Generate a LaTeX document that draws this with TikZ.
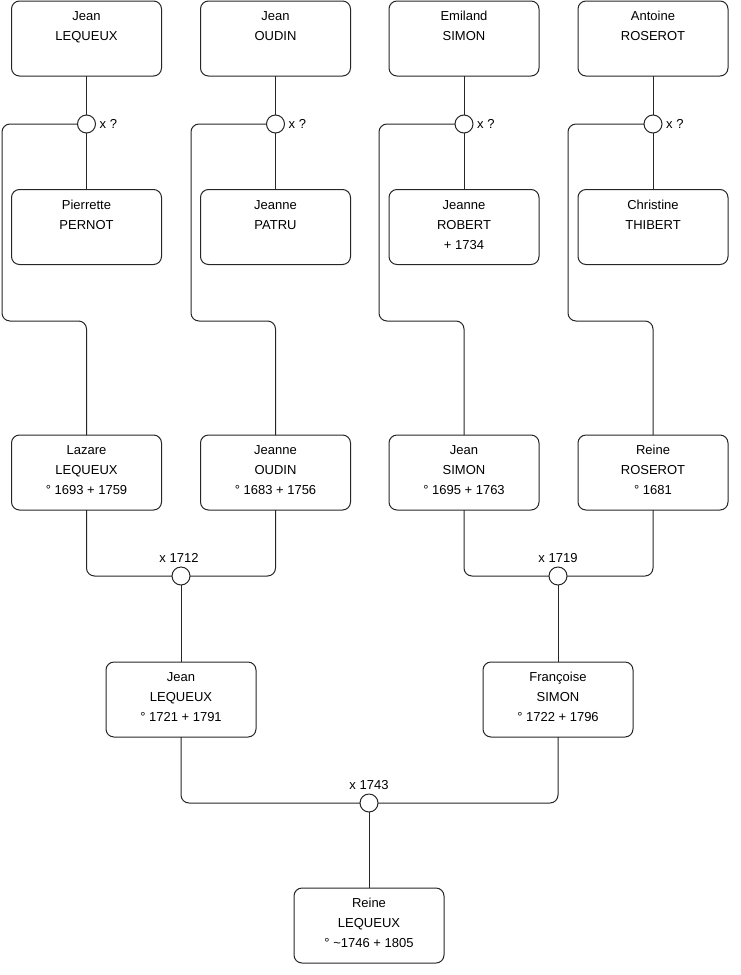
\documentclass[tikz,border=0pt]{standalone}
\usepackage{fontspec}
\setmainfont{Liberation Sans}
\tikzset{
  pbox/.style={draw=black!85, line width=1pt, rounded corners=8pt, inner sep=0pt, outer sep=0pt},
  union/.style={draw=black!85, fill=white, line width=1pt, circle, minimum size=18pt, inner sep=0pt, outer sep=0pt},
  conn/.style={draw=black!85, line width=1pt, rounded corners=8pt},
  ulabel/.style={inner sep=0pt, font=\fontsize{13}{15}\selectfont},
}
\newcommand{\pers}[1]{\parbox[c][75pt][t]{150pt}{\centering\fontsize{13}{20}\selectfont\vspace*{5.5pt}\strut#1}}
\begin{document}
\begin{tikzpicture}[x=1pt,y=-1pt]
\useasboundingbox (0,0) rectangle (740,975);
% top row
\node[pbox] (t1) at (86.5,38.5) {\pers{Jean\\LEQUEUX}};
\node[pbox] (t2) at (275.5,38.5) {\pers{Jean\\OUDIN}};
\node[pbox] (t3) at (464,38.5) {\pers{Emiland\\SIMON}};
\node[pbox] (t4) at (653,38.5) {\pers{Antoine\\ROSEROT}};
% second row
\node[pbox] (s1) at (86.5,227) {\pers{Pierrette\\PERNOT}};
\node[pbox] (s2) at (275.5,227) {\pers{Jeanne\\PATRU}};
\node[pbox] (s3) at (464,227) {\pers{Jeanne\\ROBERT\\ + 1734}};
\node[pbox] (s4) at (653,227) {\pers{Christine\\THIBERT}};
% third row
\node[pbox] (m1) at (86.5,472.5) {\pers{Lazare\\LEQUEUX\\° 1693 + 1759}};
\node[pbox] (m2) at (275.5,472.5) {\pers{Jeanne\\OUDIN\\° 1683 + 1756}};
\node[pbox] (m3) at (464,472.5) {\pers{Jean\\SIMON\\° 1695 + 1763}};
\node[pbox] (m4) at (653,472.5) {\pers{Reine\\ROSEROT\\° 1681}};
% fourth row
\node[pbox] (b1) at (181,699.5) {\pers{Jean\\LEQUEUX\\° 1721 + 1791}};
\node[pbox] (b2) at (558,699.5) {\pers{Françoise\\SIMON\\° 1722 + 1796}};
% bottom
\node[pbox] (r) at (369,925.5) {\pers{Reine\\LEQUEUX\\° \textasciitilde1746 + 1805}};
% unions
\node[union] (c1) at (86.5,124) {};
\node[union] (c2) at (275.5,124) {};
\node[union] (c3) at (464,124) {};
\node[union] (c4) at (653,124) {};
\node[union] (c5) at (181,576) {};
\node[union] (c6) at (558,576) {};
\node[union] (c7) at (369,803) {};
% union labels
\node[ulabel, anchor=west] (l1) at ([xshift=4pt]c1.east) {x ?};
\node[ulabel, anchor=west] (l2) at ([xshift=4pt]c2.east) {x ?};
\node[ulabel, anchor=west] (l3) at ([xshift=4pt]c3.east) {x ?};
\node[ulabel, anchor=west] (l4) at ([xshift=4pt]c4.east) {x ?};
\node[ulabel] (l5) at (179,558) {x 1712};
\node[ulabel] (l6) at (558,558) {x 1719};
\node[ulabel] (l7) at (369,785) {x 1743};
% connectors top
\foreach \i in {1,2,3,4} {
  \draw[conn] (t\i) -- (c\i);
  \draw[conn] (c\i) -- (s\i);
}
\draw[conn] (c1.west) -| (2,321) -| (m1.north);
\draw[conn] (c2.west) -| (191,321) -| (m2.north);
\draw[conn] (c3.west) -| (379,321) -| (m3.north);
\draw[conn] (c4.west) -| (568,321) -| (m4.north);
% third row unions
\draw[conn] (m1.south) |- (c5.west);
\draw[conn] (m2.south) |- (c5.east);
\draw[conn] (m3.south) |- (c6.west);
\draw[conn] (m4.south) |- (c6.east);
\draw[conn] (c5) -- (b1);
\draw[conn] (c6) -- (b2);
% bottom union
\draw[conn] (b1.south) |- (c7.west);
\draw[conn] (b2.south) |- (c7.east);
\draw[conn] (c7) -- (r);
\end{tikzpicture}
\end{document}
